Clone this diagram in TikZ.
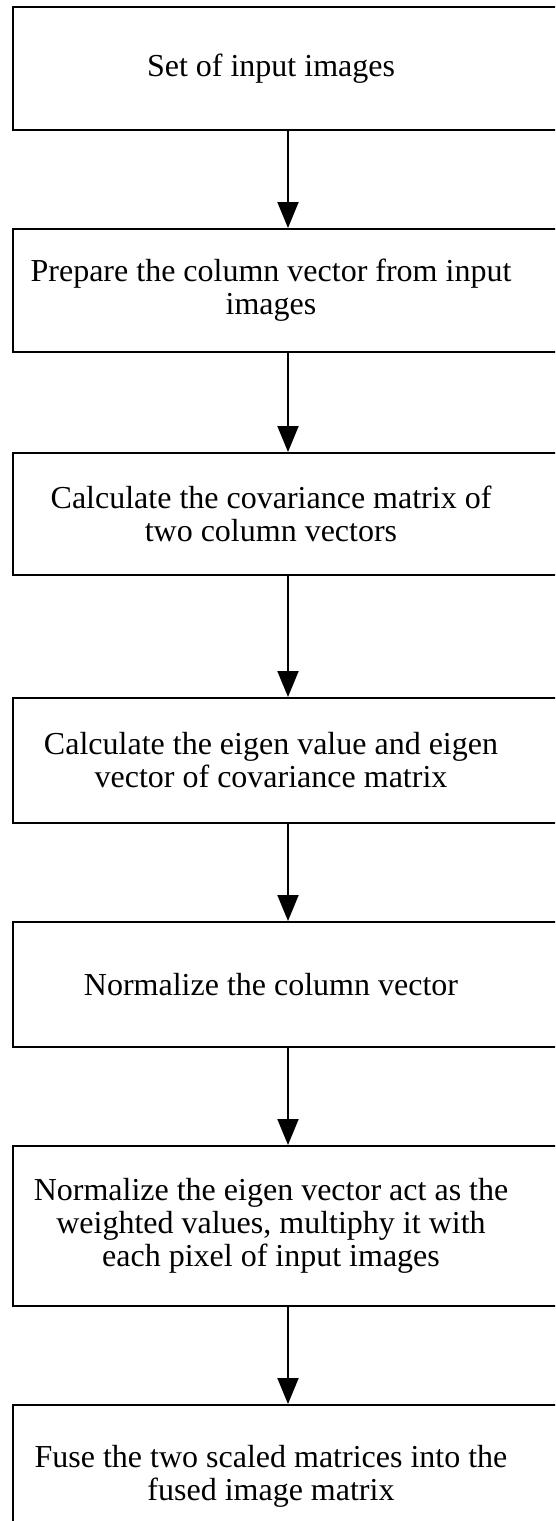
\documentclass[tikz,border=0pt]{standalone}
\usepackage{fontspec}
\setmainfont{Liberation Serif}
\usetikzlibrary{arrows.meta}
\begin{document}
\begin{tikzpicture}[x=1pt,y=-1pt,
  stepbox/.style={draw=black, line width=2pt, rectangle, inner sep=0pt, minimum width=550pt},
  txt/.style={inner sep=0pt, align=center, font=\fontsize{32}{33}\selectfont},
  arr/.style={draw=black, line width=2pt, -{Triangle[width=21pt,length=26pt]}}]
\useasboundingbox (0,0) rectangle (555,1521);
\begin{scope}
\clip (0,0) rectangle (555,1521);
\node[stepbox, minimum height=123pt] (b1) at (288,68.5) {};
\node[stepbox, minimum height=123pt] (b2) at (288,290.5) {};
\node[stepbox, minimum height=122pt] (b3) at (288,514) {};
\node[stepbox, minimum height=125pt] (b4) at (288,760.5) {};
\node[stepbox, minimum height=125pt] (b5) at (288,984.5) {};
\node[stepbox, minimum height=160pt] (b6) at (288,1226) {};
\node[stepbox, minimum height=140pt] (b7) at (288,1475) {};
\end{scope}
\node[txt] (t1) at (271,68.5) {Set of input images};
\node[txt] (t2) at (271,290.5) {Prepare the column vector from input\\images};
\node[txt] (t3) at (271,514) {Calculate the covariance matrix of\\two column vectors};
\node[txt] (t4) at (271,760.5) {Calculate the eigen value and eigen\\vector of covariance matrix};
\node[txt] (t5) at (271,984.5) {Normalize the column vector};
\node[txt] (t6) at (271,1226) {Normalize the eigen vector act as the\\weighted values, multiphy it with\\each pixel of input images};
\node[txt] (t7) at (271,1476) {Fuse the two scaled matrices into the\\fused image matrix};
\draw[arr] (b1.south) -- (b2.north);
\draw[arr] (b2.south) -- (b3.north);
\draw[arr] (b3.south) -- (b4.north);
\draw[arr] (b4.south) -- (b5.north);
\draw[arr] (b5.south) -- (b6.north);
\draw[arr] (b6.south) -- (b7.north);
\end{tikzpicture}
\end{document}
